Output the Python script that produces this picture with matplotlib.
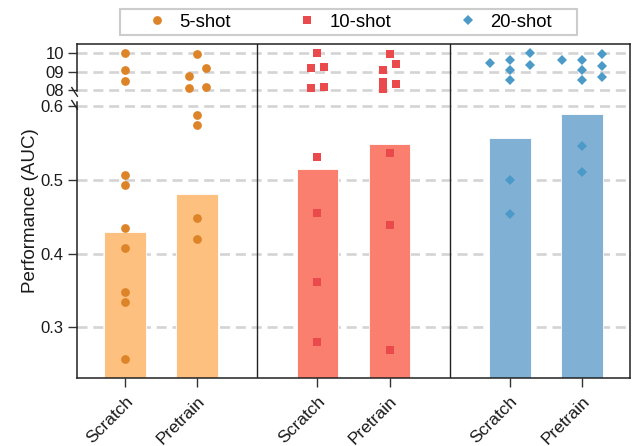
import numpy as np
import matplotlib
matplotlib.use('Agg')
import matplotlib.pyplot as plt
import matplotlib.transforms as mtransforms
from matplotlib.lines import Line2D
from matplotlib.patches import Rectangle

plt.rcParams['font.family'] = ['Liberation Sans', 'DejaVu Sans']

shots = ['5-shot', '10-shot', '20-shot']
methods = ['Scratch', 'Pretrain']

# bar heights (Scratch, Pretrain)
bar_5 = [0.429, 0.480]
bar_10 = [0.515, 0.548]
bar_20 = [0.557, 0.589]

# single runs; col = which column of the little swarm the point sits in
auc_5_scratch = [1.000, 0.909, 0.848, 0.506, 0.493, 0.435, 0.408, 0.348, 0.334, 0.257]
col_5_scratch = [0, 0, 0, 0, 0, 0, 0, 0, 0, 0]
auc_5_pretrain = [0.996, 0.919, 0.876, 0.814, 0.816, 0.587, 0.574, 0.448, 0.420]
col_5_pretrain = [0, 1, -1, -1, 1, 0, 0, 0, 0]

auc_10_scratch = [1.000, 0.922, 0.924, 0.811, 0.818, 0.531, 0.455, 0.362, 0.280]
col_10_scratch = [0, -1, 1, -1, 1, 0, 0, 0, 0]
auc_10_pretrain = [0.995, 0.941, 0.908, 0.845, 0.805, 0.832, 0.536, 0.439, 0.269]
col_10_pretrain = [0, 1, -1, -1, -1, 1, 0, 0, 0]

auc_20_scratch = [0.946, 0.962, 0.910, 0.856, 1.003, 0.937, 0.499, 0.453]
col_20_scratch = [-1, 0, 0, 0, 1, 1, 0, 0]
auc_20_pretrain = [0.962, 0.962, 0.908, 0.856, 0.996, 0.930, 0.872, 0.545, 0.511]
col_20_pretrain = [-1, 0, 0, 0, 1, 1, 1, 0, 0]

bars = [bar_5, bar_10, bar_20]
runs = [[(auc_5_scratch, col_5_scratch), (auc_5_pretrain, col_5_pretrain)],
        [(auc_10_scratch, col_10_scratch), (auc_10_pretrain, col_10_pretrain)],
        [(auc_20_scratch, col_20_scratch), (auc_20_pretrain, col_20_pretrain)]]

bar_colors = ['#fec07e', '#fa7f6f', '#80b1d4']
dot_colors = ['#dc8427', '#ea4a4c', '#4b9ac8']
markers = ['o', 's', 'D']
msizes = [6.3, 5.4, 5.3]
col_step = [0.118, 0.09, 0.277]

# broken y axis: 0.6..0.8 squeezed, 0.8..1.0 drawn at a quarter scale
LOW, HIGH = 0.6, 0.8
GAP = 0.0212
SQ = 0.25


def fwd(y):
    y = np.asarray(y, dtype=float)
    mid = LOW + (y - LOW) / (HIGH - LOW) * GAP
    hi = LOW + GAP + (y - HIGH) * SQ
    return np.where(y <= LOW, y, np.where(y >= HIGH, hi, mid))


def inv(p):
    p = np.asarray(p, dtype=float)
    mid = LOW + (p - LOW) / GAP * (HIGH - LOW)
    hi = HIGH + (p - LOW - GAP) / SQ
    return np.where(p <= LOW, p, np.where(p >= LOW + GAP, hi, mid))


fig, ax = plt.subplots(figsize=(6.41, 4.46), dpi=100)
fig.subplots_adjust(left=77/641, right=630/641, top=1-44/446, bottom=1-378/446)
ax.set_yscale('function', functions=(fwd, inv))

inner_gap = 5/3          # space between Pretrain of one group and Scratch of the next
group_step = 1 + inner_gap
xpos = []
for g in range(3):
    xs = [g * group_step + m for m in range(2)]
    xpos += xs
    ax.bar(xs, bars[g], width=0.58, color=bar_colors[g],
           edgecolor='white', linewidth=0.6, zorder=2)
    for m in range(2):
        vals, cols = runs[g][m]
        px = xs[m] + np.array(cols) * col_step[g]
        ax.plot(px, vals, linestyle='none', marker=markers[g], ms=msizes[g],
                color=dot_colors[g], markeredgewidth=0, zorder=3)

for g in range(2):
    ax.axvline(g * group_step + 1 + inner_gap / 2, color='#222222', lw=1.0, zorder=4)

ax.set_xticks(xpos)
ax.set_xticklabels(methods * 3, rotation=45, ha='right', rotation_mode='anchor', fontsize=12.5)
ax.set_yticks([0.3, 0.4, 0.5, 0.6, 0.8, 0.9, 1.0])
ax.set_yticklabels(['0.3', '0.4', '0.5', '0.6', '08', '09', '10'], fontsize=12)
ax.tick_params(axis='both', length=6.5, width=1.0, color='#333333', labelcolor='#1a1a1a')
ax.tick_params(axis='y', pad=3)
ax.tick_params(axis='x', pad=5)
ax.set_ylabel('Performance (AUC)', fontsize=13.5, color='#1a1a1a', labelpad=1)

ax.grid(axis='y', color='#d4d4d4', linestyle=(0, (3.8, 2.2)), linewidth=1.9)
ax.set_axisbelow(True)

for s in ['top', 'right', 'bottom']:
    ax.spines[s].set_color('#222222')
    ax.spines[s].set_linewidth(1.1)
ax.spines['left'].set_visible(False)

ax.set_xlim(-2/3, 2 * group_step + 1 + 2/3)
ax.set_ylim(0.2315, 1.05)

# left spine in two pieces with the little break marks
bt = mtransforms.blended_transform_factory(ax.transAxes, ax.transData)
ax.plot([0, 0], [0.2315, 0.648], transform=bt, color='#222222', lw=1.1, clip_on=False, zorder=5)
ax.plot([0, 0], [0.789, 1.05], transform=bt, color='#222222', lw=1.1, clip_on=False, zorder=5)
for yb in (0.6127, 0.778):
    x0, y0 = bt.transform((0, yb))
    fig.add_artist(Line2D([x0 - 5.2, x0 + 0.4], [y0 + 4.3, y0 - 4.3],
                          transform=mtransforms.IdentityTransform(),
                          color='#222222', lw=1.0))

# legend across the top
handles = [Line2D([], [], linestyle='none', marker=markers[i], ms=msizes[i],
                  color=dot_colors[i], markeredgewidth=0) for i in range(3)]
fig.legend(handles, shots, ncol=3, frameon=False, loc='center',
           bbox_to_anchor=(349.8/641, 1 - 22.2/446), fontsize=13.3,
           handlelength=1.0, handletextpad=0.75, columnspacing=3.6)
fig.add_artist(Rectangle((120/641, 1 - 35/446), 457/641, 25.7/446,
                         transform=fig.transFigure, facecolor='none',
                         edgecolor='#cccccc', lw=1.5))

fig.savefig('out.png', dpi=100)
